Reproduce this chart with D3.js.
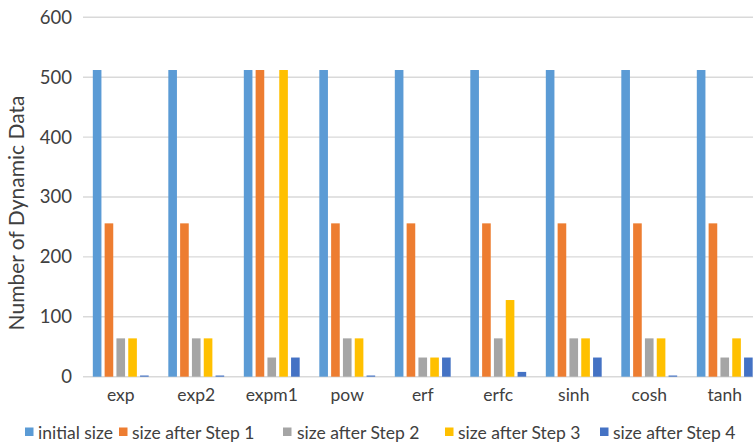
<!DOCTYPE html>
<html><head><meta charset="utf-8">
<script src="https://cdn.jsdelivr.net/npm/d3@7"></script>
<style>body{margin:0;background:#fff}svg{display:block}text{font-family:Lato,"Open Sans",sans-serif;fill:#404040}</style>
</head><body><svg id="c" width="753" height="443"></svg>
<script>
const categories = ["exp","exp2","expm1","pow","erf","erfc","sinh","cosh","tanh"];
const seriesNames = ["initial size","size after Step 1","size after Step 2","size after Step 3","size after Step 4"];
const initialSize = [512,512,512,512,512,512,512,512,512];
const afterStep1  = [256,256,512,256,256,256,256,256,256];
const afterStep2  = [64,64,32,64,32,64,64,64,32];
const afterStep3  = [64,64,512,64,32,128,64,64,64];
const afterStep4  = [2,2,32,2,32,8,32,2,32];
const yTicks = [0,100,200,300,400,500,600];
const colors = ["#5B9BD5","#ED7D31","#A5A5A5","#FFC000","#4472C4"];

const seriesValues = [initialSize, afterStep1, afterStep2, afterStep3, afterStep4];
const svg = d3.select("#c");
const x0 = d3.scaleBand().domain(categories).range([83, 762.5]);
const bw = x0.bandwidth();
const x1 = d3.scaleBand().domain(seriesNames).range([bw*0.13, bw*0.87]).paddingInner(0.27);
const y = d3.scaleLinear().domain([0,600]).range([376.7, 17.3]);

// gridlines
svg.append("g").selectAll("line").data(yTicks).join("line")
  .attr("x1",83).attr("x2",753).attr("y1",d=>y(d)).attr("y2",d=>y(d))
  .attr("stroke","#D9D9D9").attr("stroke-width",1.4);

// y tick labels
svg.append("g").selectAll("text").data(yTicks).join("text")
  .attr("x",72).attr("y",d=>y(d)).attr("dy","0.35em").attr("text-anchor","end")
  .style("font-size","18.5px").text(d=>d);

// bars
const g = svg.append("g");
categories.forEach((c,i)=>{
  seriesNames.forEach((s,j)=>{
    const v = seriesValues[j][i];
    g.append("rect").attr("x", x0(c)+x1(s)).attr("width", x1.bandwidth())
      .attr("y", y(v)).attr("height", y(0)-y(v)).attr("fill", colors[j]);
  });
});

// x labels
svg.append("g").selectAll("text").data(categories).join("text")
  .attr("x",d=>x0(d)+bw/2).attr("y",401).attr("text-anchor","middle")
  .style("font-size","17.5px").text(d=>d);

// y title
svg.append("text").attr("transform","translate(24,213) rotate(-90)")
  .attr("text-anchor","middle").style("font-size","21px").text("Number of Dynamic Data");

// legend
const legSq = [25,119,283,445,600];
const legTx = [38,132,297,458,613];
const leg = svg.append("g");
seriesNames.forEach((s,j)=>{
  leg.append("rect").attr("x",legSq[j]).attr("y",427.5).attr("width",8.5).attr("height",8.5).attr("fill",colors[j]);
  leg.append("text").attr("x",legTx[j]).attr("y",439).style("font-size","17.5px").text(s);
});
</script></body></html>
